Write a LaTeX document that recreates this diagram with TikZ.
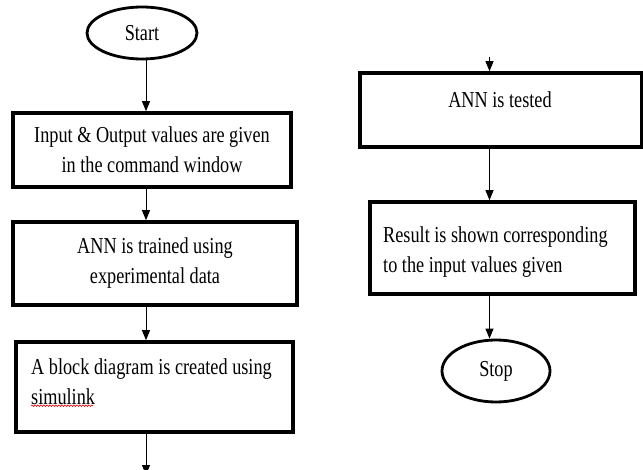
\documentclass[tikz,border=0pt]{standalone}
\usepackage{fontspec}
\setmainfont[FakeStretch=0.8]{Liberation Serif}
\usetikzlibrary{shapes.geometric,arrows.meta,decorations.pathmorphing}
\begin{document}
\begin{tikzpicture}[x=1pt,y=-1pt,
  box/.style={draw,line width=3.6pt,rectangle,inner sep=0pt},
  term/.style={draw,ellipse,line width=2.8pt,inner sep=0pt},
  txt/.style={font=\fontsize{22.8}{30}\selectfont,inner sep=0pt,align=center},
  arr/.style={line width=1pt,-{Triangle[length=10pt,width=8pt]}}]
\useasboundingbox (0,0) rectangle (643,470);
\clip (0,0) rectangle (643,470);
\coordinate (cl) at (146,0);
\coordinate (cr) at (489.5,0);
% left column
\node[term,txt,minimum width=110pt,minimum height=52pt] (start) at (142,33) {Start};
\node[box,txt,minimum width=278pt,minimum height=74pt] (b1) at (152,150) {Input \& Output values are given\\in the command window};
\node[box,txt,minimum width=284pt,minimum height=83pt] (b2) at (155,263.5) {ANN is trained using\\experimental data};
\node[box,minimum width=277pt,minimum height=90pt] (b3) at (154.5,387) {};
\node[txt,align=left,anchor=west] (t3) at (31,382) {A block diagram is created using\\simulink};
\draw[red,line width=0.6pt,decorate,decoration={snake,amplitude=0.8pt,segment length=3pt}] ([yshift=-0.5pt]t3.south west) -- ++(62,0);
\coordinate (lend) at (146,475);
% right column
\coordinate (topin) at (489.5,57);
\node[box,minimum width=282pt,minimum height=74pt] (b4) at (501,110) {};
\node[txt] (t4) at (500,100) {ANN is tested};
\node[box,minimum width=265pt,minimum height=92pt] (b5) at (502.5,248) {};
\node[txt,align=left,anchor=west] (t5) at (383,252) {Result is shown corresponding\\to the input values given};
\node[term,txt,minimum width=108pt,minimum height=62pt] (stop) at (496,371) {Stop};
% connectors
\draw[arr] (cl |- start.south) -- (cl |- b1.north);
\draw[arr] (cl |- b1.south) -- (cl |- b2.north);
\draw[arr] (cl |- b2.south) -- (cl |- b3.north);
\draw[arr] (cl |- b3.south) -- (lend);
\draw[arr] (topin) -- (cr |- b4.north);
\draw[arr] (cr |- b4.south) -- (cr |- b5.north);
\draw[arr] (cr |- b5.south) -- (cr |- stop.north);
\end{tikzpicture}
\end{document}
